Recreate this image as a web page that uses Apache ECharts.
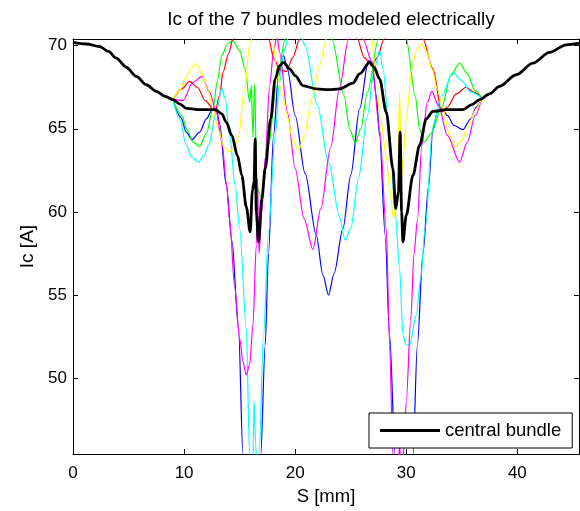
<!DOCTYPE html>
<html>
<head>
<meta charset="utf-8">
<script src="https://cdn.jsdelivr.net/npm/echarts@6/dist/echarts.min.js"></script>
<style>
html,body{margin:0;padding:0;background:#fff;}
#chart{width:580px;height:511px;}
</style>
</head>
<body>
<div id="chart"></div>
<script>
// ---- data: [S (mm), Ic (A)] ----
const xTicks = [0, 10, 20, 30, 40];
const yTicks = [50, 55, 60, 65, 70];

const central = [[0,70.2],[1.2,70.1],[2.4,69.95],[3.2,69.65],[3.9,69.25],[4.8,68.7],[5.7,68.15],[6.6,67.65],[7.5,67.25],[8.3,66.95],[9.0,66.75],[9.6,66.5],[10.2,66.23],[11.5,66.15],[12.8,66.15],[13.4,65.9],[13.8,65.4],[14.3,64.6],[14.8,63.4],[15.2,62.2],[15.6,60.3],[15.95,58.8],[16.15,61.3],[16.3,61.8],[16.4,64.4],[16.5,60.0],[16.7,58.2],[17.0,60.8],[17.3,62.6],[17.8,65.6],[18.2,68.0],[18.6,68.8],[18.95,69.0],[19.5,68.6],[20.0,68.2],[20.7,67.6],[21.9,67.4],[23.0,67.35],[24.0,67.4],[25.2,67.75],[25.8,68.3],[26.7,69.0],[27.1,68.7],[27.6,68.0],[28.2,66.0],[28.8,62.6],[29.05,60.2],[29.3,61.2],[29.45,64.8],[29.58,60.0],[29.7,58.2],[30.0,59.8],[30.6,62.2],[31.2,64.0],[31.8,65.6],[32.4,66.05],[33.6,66.15],[35.1,66.15],[35.9,66.45],[36.6,66.75],[37.5,67.1],[38.4,67.55],[39.9,68.25],[41.4,68.95],[42.9,69.6],[44.4,70.05],[45.55,70.15]];

const blue = [[9.0,66.75],[9.7,65.7],[10.2,64.8],[10.7,64.35],[11.4,64.8],[12.0,65.6],[12.5,66.1],[12.9,66.2],[13.2,65.3],[13.8,61.6],[14.3,58.3],[14.9,53.0],[15.3,45.4],[15.7,40.5],[16.1,39.5],[16.5,41.5],[16.9,45.4],[17.3,52.0],[17.6,57.5],[18.05,64.6],[18.5,68.2],[18.95,69.4],[19.3,68.6],[20.0,65.8],[20.9,62.3],[21.9,58.6],[22.5,56.2],[23.0,55.0],[23.5,56.3],[24.3,59.0],[25.0,62.2],[25.8,66.2],[26.6,69.1],[26.9,69.0],[27.3,67.0],[27.6,64.6],[28.1,58.6],[28.5,52.6],[29.0,45.4],[29.4,40.0],[29.8,39.5],[30.2,41.5],[30.6,45.4],[31.0,52.0],[31.5,57.5],[32.0,61.5],[32.4,65.0],[32.8,66.0],[33.2,66.2],[33.7,65.8],[34.3,65.2],[35.1,64.95],[35.8,65.6],[36.3,66.3],[36.8,66.85]];

const green = [[9.0,66.75],[9.8,65.8],[10.3,64.9],[10.8,64.2],[11.4,63.95],[12.0,64.7],[12.6,66.2],[13.0,67.9],[13.4,69.4],[13.9,70.1],[14.4,70.3],[15.0,69.7],[15.5,68.6],[15.9,66.6],[16.05,67.6],[16.2,64.5],[16.35,67.7],[16.55,61.5],[17.0,60.8],[17.6,64.0],[18.3,67.5],[19.1,70.4],[20.0,71.8],[21.2,72.3],[22.3,71.8],[23.3,70.4],[24.4,67.0],[24.9,65.0],[25.4,64.15],[25.9,65.0],[26.5,67.2],[27.5,70.4],[28.2,71.6],[29.0,72.0],[29.6,71.5],[30.0,70.4],[30.8,67.0],[31.2,65.0],[31.6,64.2],[32.2,64.7],[33.2,66.3],[34.0,68.2],[34.8,68.95],[35.5,68.3],[36.2,67.3],[36.8,66.85]];

const red = [[9.0,66.75],[9.8,67.4],[10.5,67.85],[11.2,67.5],[11.9,66.7],[12.8,66.05],[13.2,67.0],[13.5,68.4],[14.0,69.5],[14.4,70.4],[15.2,72.2],[16.0,72.8],[16.8,72.2],[17.6,70.4],[18.1,69.2],[18.6,68.55],[19.2,68.45],[19.8,69.3],[20.4,70.4],[21.5,72.0],[22.9,72.5],[24.3,72.0],[25.6,70.4],[26.2,69.3],[26.9,68.8],[27.4,69.3],[28.0,70.4],[28.8,72.2],[29.7,72.8],[30.6,72.2],[31.5,70.4],[32.4,68.6],[33.2,66.0],[33.7,66.3],[34.5,67.1],[35.4,67.5],[36.1,67.2],[36.8,66.85]];

const cyan = [[9.0,66.75],[9.6,65.6],[10.2,64.0],[10.7,63.3],[11.3,63.0],[11.8,63.4],[12.2,64.0],[12.9,66.0],[13.4,67.45],[13.7,66.8],[14.1,64.6],[14.6,61.6],[15.0,59.0],[15.6,53.0],[15.9,45.4],[16.05,43.8],[16.2,45.4],[16.3,48.6],[16.45,46.0],[16.6,43.5],[16.75,45.4],[17.15,52.6],[17.6,58.8],[18.2,64.6],[18.6,67.8],[18.95,69.6],[19.4,70.5],[19.9,71.0],[20.4,70.8],[20.9,70.0],[22.0,66.4],[23.0,63.0],[24.0,59.7],[24.5,58.3],[25.0,59.0],[25.7,62.0],[26.5,65.8],[27.1,68.5],[27.6,69.7],[27.9,68.6],[28.5,64.6],[29.0,60.0],[29.4,56.6],[29.7,52.6],[30.0,52.0],[30.3,52.0],[30.9,53.8],[31.3,56.0],[31.7,59.0],[32.4,65.2],[33.2,67.0],[34.2,68.4],[35.0,67.9],[35.8,67.2],[36.8,66.85]];

const magenta = [[9.0,66.75],[9.9,66.7],[10.8,67.8],[11.6,68.15],[12.3,67.2],[12.9,66.0],[13.4,64.2],[13.8,61.8],[14.1,59.5],[14.55,55.5],[15.0,52.4],[15.3,51.0],[15.6,50.2],[15.9,50.8],[16.2,53.2],[16.5,58.0],[16.6,62.0],[16.75,57.5],[17.0,60.0],[17.3,63.3],[17.7,67.6],[18.05,69.6],[18.35,70.6],[18.6,69.6],[19.3,66.0],[20.0,62.6],[20.8,59.6],[21.6,57.75],[22.3,60.2],[23.2,63.9],[24.0,67.5],[24.8,70.4],[25.4,71.2],[26.1,70.4],[26.9,69.05],[27.6,64.95],[28.2,59.0],[28.5,52.0],[28.8,45.4],[29.05,43.5],[29.3,44.8],[29.4,46.2],[29.5,44.5],[29.65,44.0],[29.8,46.0],[30.0,48.6],[30.4,53.5],[30.7,57.5],[31.0,59.5],[31.4,64.0],[31.9,66.6],[32.3,67.25],[32.9,66.4],[33.7,64.6],[34.8,63.0],[35.5,64.2],[36.2,65.8],[36.8,66.85]];

const yellow = [[9.0,66.75],[9.6,67.3],[10.1,68.0],[10.6,68.6],[11.1,68.9],[11.6,68.3],[12.1,67.4],[12.6,66.2],[13.1,64.9],[13.6,63.9],[14.1,63.6],[14.5,63.9],[14.9,64.5],[15.4,67.2],[15.95,70.2],[16.5,71.8],[17.1,72.3],[17.6,71.6],[18.0,70.4],[18.3,68.6],[18.8,67.2],[19.3,65.7],[19.8,64.3],[20.3,63.7],[20.8,64.5],[21.5,66.8],[22.2,68.8],[22.8,70.4],[23.8,72.0],[24.9,72.5],[26.0,72.0],[26.9,70.4],[27.3,67.6],[27.7,65.6],[28.2,63.4],[28.5,61.5],[28.85,59.6],[29.2,61.0],[29.4,67.2],[29.55,62.0],[29.75,63.5],[30.0,65.6],[30.5,68.6],[30.9,69.7],[31.4,70.1],[31.9,69.6],[32.3,68.6],[32.8,67.4],[33.3,66.2],[33.9,64.6],[34.4,63.9],[35.0,64.3],[35.6,65.2],[36.2,66.1],[36.8,66.85]];

// ---- chart ----
const FONT = 'Liberation Sans, Arial, Helvetica, sans-serif';
const chart = echarts.init(document.getElementById('chart'), null, {renderer: 'canvas'});

function line(name, data, color, width, z) {
  return {
    name: name, type: 'line', data: data, showSymbol: false, symbol: 'none',
    smooth: 0.3, smoothMonotone: 'x', clip: true, silent: true, z: z,
    lineStyle: {color: color, width: width}, itemStyle: {color: color},
    emphasis: {disabled: true}
  };
}

const axisCommon = {
  type: 'value',
  splitLine: {show: false},
  axisLine: {show: true, onZero: false, lineStyle: {color: '#000', width: 1}},
};

const option = {
  animation: false,
  backgroundColor: '#fff',
  title: {
    text: 'Ic of the 7 bundles modeled electrically',
    left: 326, top: 5, textAlign: 'center',
    textStyle: {fontFamily: FONT, fontSize: 19, fontWeight: 'normal', color: '#000'}
  },
  grid: {left: 73, right: 1, top: 39, bottom: 54},
  legend: {
    data: [{name: 'central bundle', icon: 'rect'}],
    left: 369, top: 413, padding: [8, 11, 8, 11],
    itemWidth: 60, itemHeight: 3,
    borderColor: '#000', borderWidth: 1, backgroundColor: '#fff',
    selectedMode: false,
    textStyle: {fontFamily: FONT, fontSize: 18.5, color: '#000'}
  },
  xAxis: [
    Object.assign({}, axisCommon, {
      min: 0, max: 45.55, position: 'bottom',
      name: 'S [mm]', nameLocation: 'middle', nameGap: 31,
      nameTextStyle: {fontFamily: FONT, fontSize: 18.5, color: '#000'},
      axisTick: {inside: true, length: 5, customValues: xTicks, lineStyle: {color: '#000'}},
      axisLabel: {customValues: xTicks, margin: 11, fontFamily: FONT, fontSize: 17, color: '#000'}
    }),
    Object.assign({}, axisCommon, {
      min: 0, max: 45.55, position: 'top',
      axisTick: {inside: true, length: 5, customValues: xTicks, lineStyle: {color: '#000'}},
      axisLabel: {show: false}
    })
  ],
  yAxis: [
    Object.assign({}, axisCommon, {
      min: 45.44, max: 70.4, position: 'left',
      name: 'Ic [A]', nameLocation: 'middle', nameGap: 27,
      nameTextStyle: {fontFamily: FONT, fontSize: 19, color: '#000'},
      axisTick: {inside: true, length: 5, customValues: yTicks, lineStyle: {color: '#000'}},
      axisLabel: {customValues: yTicks, margin: 6, fontFamily: FONT, fontSize: 17, color: '#000'}
    }),
    Object.assign({}, axisCommon, {
      min: 45.44, max: 70.4, position: 'right',
      axisTick: {inside: true, length: 5, customValues: yTicks, lineStyle: {color: '#000'}},
      axisLabel: {show: false}
    })
  ],
  series: [
    line('bundle b', blue, '#0000ff', 1.2, 2),
    line('bundle g', green, '#00ff00', 1.2, 2),
    line('bundle r', red, '#ff0000', 1.2, 2),
    line('bundle c', cyan, '#00ffff', 1.2, 2),
    line('bundle m', magenta, '#ff00ff', 1.2, 2),
    line('bundle y', yellow, '#ffff00', 1.2, 2),
    line('central bundle', central, '#000000', 2.8, 3)
  ]
};
chart.setOption(option);
</script>
</body>
</html>
